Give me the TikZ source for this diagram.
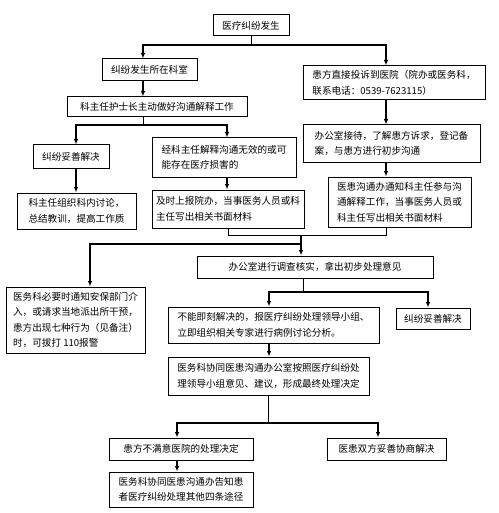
\documentclass[tikz,border=0pt]{standalone}
\usepackage{fontspec}
\newfontfamily\cjk{Noto Sans CJK SC}
\usetikzlibrary{arrows.meta}
\tikzset{
  box/.style 2 args={draw, line width=1pt, align=left, inner xsep=4pt,
    inner ysep=2pt, minimum width=#1, minimum height=#2,
    font=\cjk\fontsize{9.6}{15.5}\selectfont},
  link/.style={-{Latex[length=5.5pt,width=4.5pt]}, line width=1.1pt},
  wire/.style={line width=1pt}}

\begin{document}
\begin{tikzpicture}[x=1pt, y=-1pt]
\useasboundingbox (0,0) rectangle (498,513);

\node[box={76}{21}] (start) at (251,25.5) {医疗纠纷发生};
\node[box={95}{22}] (dept) at (149.5,70) {纠纷发生所在科室};
\node[box={180}{20}] (head) at (157,107) {科主任护士长主动做好沟通解释工作};
\node[box={76}{23}] (solvedA) at (71,156.5) {纠纷妥善解决};
\node[box={119}{36}] (summary) at (76.5,211)
  {科主任组织科内讨论，\\总结教训，提高工作质};
\node[box={144}{39}] (invalid) at (224,157.5)
  {经科主任解释沟通无效的或可\\能存在医疗损害的};
\node[box={152}{38}] (report) at (228,209)
  {及时上报院办，当事医务人员或科\\主任写出相关书面材料};
\node[box={182}{34}] (complain) at (394,83)
  {患方直接投诉到医院（院办或医务科，\\联系电话：0539-7623115）};
\node[box={177}{37}] (reception) at (391.5,143.5)
  {办公室接待，了解患方诉求，登记备\\案，与患方进行初步沟通};
\node[box={143}{50}] (notify) at (399.5,202)
  {医患沟通办通知科主任参与沟\\通解释工作，当事医务人员或\\科主任写出相关书面材料};
\node[box={139}{66}] (security) at (75.5,320)
  {医务科必要时通知安保部门介\\入，或请求当地派出所干预，\\患方出现七种行为（见备注）\\时，可拔打 110报警};
\node[box={236}{22}] (investigate) at (315,267)
  {办公室进行调查核实，拿出初步处理意见};
\node[box={211}{36}] (cannot) at (273.5,325)
  {不能即刻解决的，报医疗纠纷处理领导小组、\\立即组织相关专家进行病例讨论分析。};
\node[box={74}{21}] (solvedB) at (433,318.5) {纠纷妥善解决};
\node[box={201}{38}] (final) at (268.5,376)
  {医务科协同医患沟通办公室按照医疗纠纷处\\理领导小组意见、建议，形成最终处理决定};
\node[box={144}{22}] (unsatisfied) at (181,449) {患方不满意医院的处理决定};
\node[box={144}{35}] (ways) at (181,489.5)
  {医务科协同医患沟通办告知患\\者医疗纠纷处理其他四条途径};
\node[box={119}{22}] (agree) at (386.5,449) {医患双方妥善协商解决};

\coordinate (j1) at (251,45);
\draw[wire] (start.south) -- (j1);
\draw[link] (j1) -| ([xshift=-6.5]dept.north);
\draw[link] (j1) -| ([xshift=-8]complain.north);
\draw[link] ([xshift=-6.5]dept.south) -- ([xshift=-6.5]dept.south |- head.north);

\coordinate (j2) at (143,125);
\draw[wire] (head.south -| j2) -- (j2);
\draw[link] (j2) -| ([xshift=5]solvedA.north);
\draw[link] (j2) -| ([xshift=3]invalid.north);
\draw[link] ([xshift=5]solvedA.south) -- ([xshift=5]solvedA.south |- summary.north);
\draw[link] ([xshift=3]invalid.south) -- ([xshift=3]invalid.south |- report.north);

\draw[link] ([xshift=-8]complain.south) -- ([xshift=-8]complain.south |- reception.north);
\draw[link] ([xshift=-5.5]reception.south) -- ([xshift=-5.5]reception.south |- notify.north);

\coordinate (j3) at (301,235);
\coordinate (j4) at (301,244);
\draw[wire] (report.south) |- (j3);
\draw[wire] ([xshift=-13.5]notify.south) |- (j3);
\draw[link] (j3) -- (j3 |- investigate.north);
\draw[link] (j4) -| ([xshift=14.5]security.north);

\coordinate (j5) at (303,292);
\draw[wire] (investigate.south -| j5) -- (j5);
\draw[link] (j5) -| ([xshift=-4.5]cannot.north);
\draw[link] (j5) -| ([xshift=-5]solvedB.north);
\draw[link] ([xshift=-4.5]cannot.south) -- ([xshift=-4.5]cannot.south |- final.north);

\coordinate (j6) at (268.5,423);
\draw[wire] (final.south) -- (j6);
\draw[link] (j6) -| ([xshift=-4]unsatisfied.north);
\draw[link] (j6) -| ([xshift=-8.5]agree.north);
\draw[link] ([xshift=-4]unsatisfied.south) -- ([xshift=-4]unsatisfied.south |- ways.north);
\end{tikzpicture}
\end{document}
